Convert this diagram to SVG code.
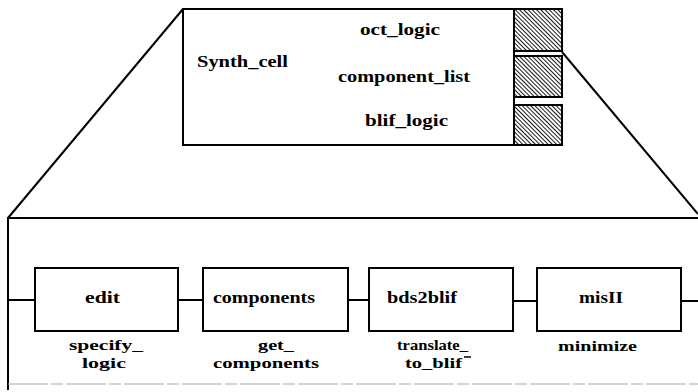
<svg xmlns="http://www.w3.org/2000/svg" width="698" height="392" viewBox="0 0 698 392">
<style>
.t{font-family:"Liberation Serif","DejaVu Serif","Times New Roman",serif;font-weight:bold;font-size:17px;fill:#000}
.s{font-size:15px}
.box{fill:#fff;stroke:#000;stroke-width:2}
.ln{stroke:#000;stroke-width:2;fill:none}
.hat{fill:url(#hatch);stroke:#000;stroke-width:2}
</style>
<defs>
<pattern id="hatch" patternUnits="userSpaceOnUse" width="3" height="3" patternTransform="rotate(-45)">
<rect width="3" height="3" fill="#fff"/>
<line x1="0" y1="0" x2="0" y2="3" stroke="#000" stroke-width="1.8"/>
</pattern>
</defs>
<rect width="698" height="392" fill="#fff"/>

<g id="perspective">
<line class="ln" x1="183" y1="9" x2="8" y2="218"/>
<line class="ln" x1="562" y1="52" x2="698" y2="214"/>
</g>

<g id="synth_cell">
<rect class="box" x="183" y="9" width="331" height="136"/>
<rect class="hat" x="514" y="9" width="48" height="42"/>
<rect class="hat" x="514" y="56" width="48" height="41"/>
<rect class="hat" x="514" y="105" width="48" height="40"/>
<text class="t" x="197" y="67" textLength="91" lengthAdjust="spacingAndGlyphs">Synth_cell</text>
<text class="t" x="360" y="35" textLength="80" lengthAdjust="spacingAndGlyphs">oct_logic</text>
<text class="t" x="338" y="82" textLength="132" lengthAdjust="spacingAndGlyphs">component_list</text>
<text class="t" x="365" y="126" textLength="83" lengthAdjust="spacingAndGlyphs">blif_logic</text>
</g>

<g id="frame">
<polyline class="ln" points="698,218 8,218 8,390"/>
<line x1="8" y1="384" x2="698" y2="384" stroke="#aaa" stroke-width="1.2" stroke-dasharray="40,3,12,3"/>
</g>

<g id="connectors">
<line class="ln" x1="8" y1="300" x2="35" y2="300"/>
<line class="ln" x1="178" y1="300" x2="203" y2="300"/>
<line class="ln" x1="348" y1="300" x2="369" y2="300"/>
<line class="ln" x1="513" y1="301" x2="537" y2="301"/>
<line class="ln" x1="681" y1="301" x2="698" y2="301"/>
</g>

<g id="edit">
<rect class="box" x="35" y="268" width="143" height="63"/>
<text class="t" x="85" y="303" textLength="35" lengthAdjust="spacingAndGlyphs">edit</text>
<text class="t s" x="69" y="350" textLength="74" lengthAdjust="spacingAndGlyphs">specify_</text>
<text class="t s" x="82" y="368" textLength="44" lengthAdjust="spacingAndGlyphs">logic</text>
</g>

<g id="components">
<rect class="box" x="203" y="268" width="145" height="63"/>
<text class="t" x="213" y="303" textLength="102" lengthAdjust="spacingAndGlyphs">components</text>
<text class="t s" x="258" y="350" textLength="36" lengthAdjust="spacingAndGlyphs">get_</text>
<text class="t s" x="213" y="368" textLength="106" lengthAdjust="spacingAndGlyphs">components</text>
</g>

<g id="bds2blif">
<rect class="box" x="369" y="268" width="144" height="63"/>
<text class="t" x="387" y="303" textLength="70" lengthAdjust="spacingAndGlyphs">bds2blif</text>
<text class="t s" x="397" y="350" textLength="71" lengthAdjust="spacingAndGlyphs">translate_</text>
<text class="t s" x="405" y="368" textLength="57" lengthAdjust="spacingAndGlyphs">to_blif</text>
<line x1="464" y1="357" x2="471" y2="357" stroke="#000" stroke-width="1.5"/>
</g>

<g id="misII">
<rect class="box" x="537" y="268" width="144" height="63"/>
<text class="t" x="579" y="303" textLength="44" lengthAdjust="spacingAndGlyphs">misII</text>
<text class="t s" x="558" y="351" textLength="79" lengthAdjust="spacingAndGlyphs">minimize</text>
</g>
</svg>
